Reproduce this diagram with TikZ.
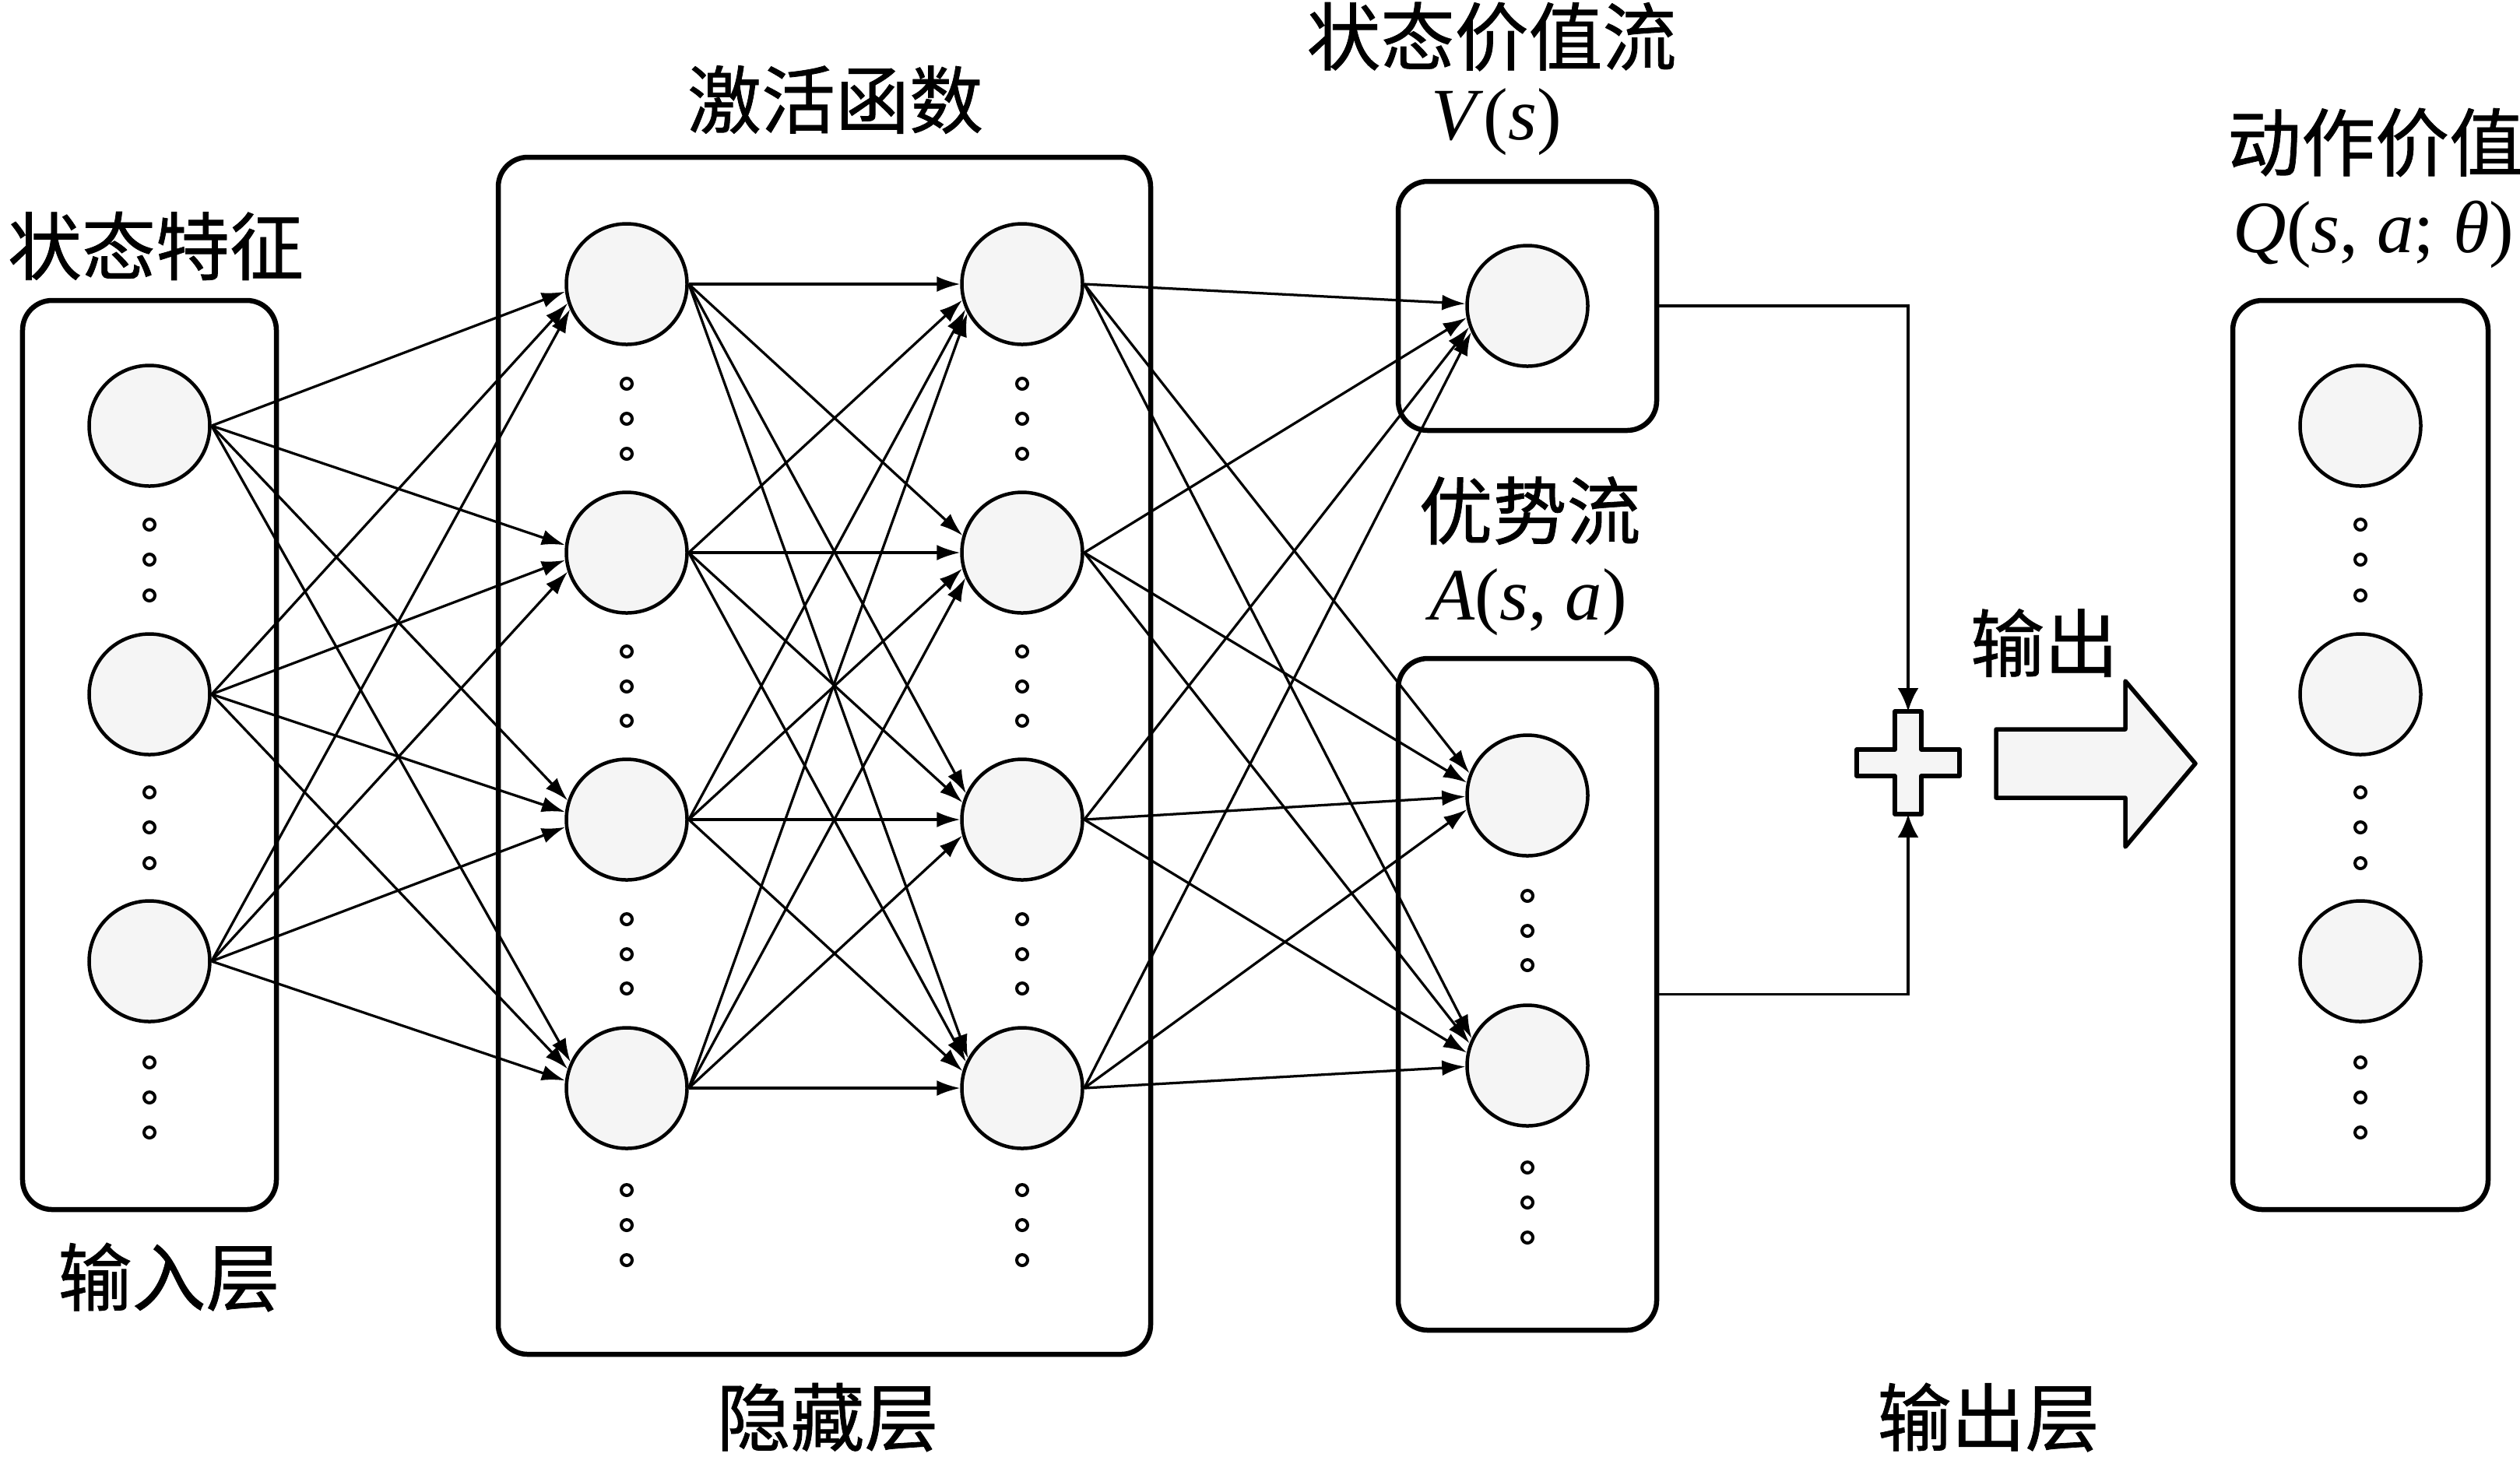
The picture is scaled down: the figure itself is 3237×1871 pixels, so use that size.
\documentclass[tikz,border=0pt]{standalone}
\usepackage{fontspec}
\setmainfont{Liberation Serif}
\newfontfamily\cjk[FakeBold=0.8]{Noto Sans CJK SC}
\usetikzlibrary{arrows.meta,calc}
\newcommand\nnlink[2]{\draw[conn] let \p1=($(#2.center)-(#1.center)$), \n1={180+0.45*atan2(\y1,\x1)} in (#1.east) -- (#2.\n1);}
\begin{document}
\begin{tikzpicture}[x=0.2pt,y=-0.2pt,
 box/.style={draw, line width=1.3pt, rounded corners=7.6pt, inner sep=0},
 neuron/.style={circle, draw, line width=0.9pt, fill=black!4, minimum size=31pt, inner sep=0},
 dotc/.style={circle, draw, line width=0.8pt, minimum size=2.8pt, inner sep=0},
 conn/.style={line width=0.65pt, -{Latex[length=6pt,width=4pt]}},
 sumconn/.style={line width=0.75pt, -{Latex[length=6pt,width=5.4pt]}},
 zh/.style={font=\cjk\fontsize{19}{22}\selectfont, inner sep=0},
 mathlbl/.style={font=\fontsize{19}{23}\selectfont, inner sep=0},
]
\useasboundingbox (0,0) rectangle (3237,1871);
% boxes
\node[box, minimum width=65.2pt, minimum height=233.6pt] (inbox) at (192,970) {};
\node[box, minimum width=167.6pt, minimum height=307.6pt] (hbox) at (1059,971) {};
\node[box, minimum width=66.4pt, minimum height=64pt] (vbox) at (1962,393) {};
\node[box, minimum width=66.4pt, minimum height=172.6pt] (abox) at (1962,1277.5) {};
\node[box, minimum width=65.6pt, minimum height=233.6pt] (outbox) at (3032,970) {};
% neurons
\foreach \i/\y in {1/547,2/892,3/1235} {
  \node[neuron] (in\i) at (192,\y) {};
  \node[neuron] (o\i) at (3032,\y) {};
}
\foreach \y [count=\k] in {674,719,765,1018,1063,1109,1365,1410,1455} {
  \node[dotc] (ind\k) at (192,\y) {};
  \node[dotc] (od\k) at (3032,\y) {};
}
\foreach \i/\y in {1/365,2/710,3/1053,4/1398} {
  \node[neuron] (ha\i) at (805,\y) {};
  \node[neuron] (hb\i) at (1313,\y) {};
}
\foreach \y [count=\k] in {493,538,583,837,882,926,1181,1226,1270,1529,1574,1619} {
  \node[dotc] (had\k) at (805,\y) {};
  \node[dotc] (hbd\k) at (1313,\y) {};
}
\node[neuron] (v) at (1962,393) {};
\node[neuron] (a1) at (1962,1022) {};
\node[neuron] (a2) at (1962,1369) {};
\foreach \y [count=\k] in {1151,1196,1240,1500,1545,1590} {
  \node[dotc] (ad\k) at (1962,\y) {};
}
% links
\foreach \i in {1,2,3} { \foreach \j in {1,...,4} { \nnlink{in\i}{ha\j} } }
\foreach \i in {1,...,4} { \foreach \j in {1,...,4} { \nnlink{ha\i}{hb\j} } }
\foreach \i in {1,...,4} { \nnlink{hb\i}{v} \nnlink{hb\i}{a1} \nnlink{hb\i}{a2} }
% plus
\coordinate (plus) at (2451,980);
\coordinate (plustop) at (2451,914);
\coordinate (plusbot) at (2451,1046);
\draw[line width=1.1pt, fill=black!4, line join=round]
  (2434,914) -- (2468,914) -- (2468,963) -- (2517,963) -- (2517,997) -- (2468,997)
  -- (2468,1046) -- (2434,1046) -- (2434,997) -- (2385,997) -- (2385,963) -- (2434,963) -- cycle;
\draw[sumconn] (vbox.east) -| (plustop);
\draw[sumconn] (abox.east) -| (plusbot);
% big arrow
\draw[line width=1.1pt, fill=black!4, line join=round]
  (2564,937) -- (2730,937) -- (2730,875) -- (2820,981) -- (2730,1088) -- (2730,1025) -- (2564,1025) -- cycle;
% labels
\node[zh] (l1) at (200,316) {状态特征};
\node[zh] (l2) at (217,1641) {输入层};
\node[zh] (l3) at (1073,128) {激活函数};
\node[zh] (l4) at (1063,1821) {隐藏层};
\node[zh] (l5) at (1916,47) {状态价值流};
\node[mathlbl] (l6) at (1922,157) {\textit{V}(\textit{s})};
\node[zh] (l7) at (1965,656) {优势流};
\node[mathlbl] (l8) at (1963,774) {\textit{A}(\textit{s}, \textit{a})};
\node[zh] (l9) at (2626,826) {输出};
\node[zh] (l10) at (3051,183) {动作价值};
\node[mathlbl] (l11) at (3049,301) {\textit{Q}(\textit{s}, \textit{a}; \textit{θ})};
\node[zh] (l12) at (2554,1821) {输出层};
\end{tikzpicture}
\end{document}
